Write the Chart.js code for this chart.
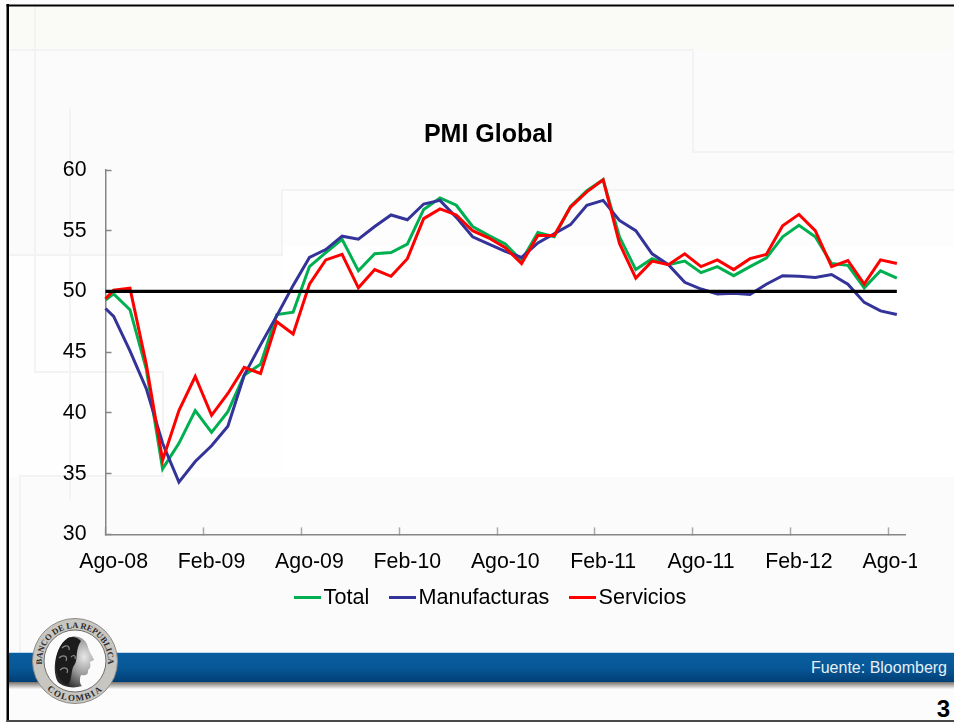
<!DOCTYPE html>
<html lang="es">
<head>
<meta charset="utf-8">
<title>PMI Global</title>
<script src="https://cdn.jsdelivr.net/npm/chart.js@4/dist/chart.umd.min.js"></script>
<style>
    html, body { margin: 0; padding: 0; background: #fcfcfc; overflow: hidden; }
    #slide { position: relative; width: 954px; height: 722px; font-family: "Liberation Sans", Arial, sans-serif; }
    #slide svg, #slide canvas { position: absolute; left: 0; top: 0; }
</style>
</head>
<body>
<div id="slide">
    <!-- Slide template: faint steps, blue band, seal and page number -->
    <svg width="954" height="722" viewBox="0 0 954 722">
        <defs>
            <linearGradient id="band" x1="0" y1="0" x2="0" y2="1">
                <stop offset="0" stop-color="#0a5f9f"/>
                <stop offset="0.55" stop-color="#075796"/>
                <stop offset="1" stop-color="#013f76"/>
            </linearGradient>
            <linearGradient id="bandShadow" x1="0" y1="0" x2="0" y2="1">
                <stop offset="0" stop-color="#77726c"/>
                <stop offset="1" stop-color="#f8f8f8"/>
            </linearGradient>
            <radialGradient id="face" cx="0.75" cy="0.4" r="0.7">
                <stop offset="0" stop-color="#e8e8e8"/>
                <stop offset="0.5" stop-color="#9a9a9a"/>
                <stop offset="1" stop-color="#2b2b2b"/>
            </radialGradient>
            <path id="sealTop" d="M 42.5 666.7 A 33 33 0 1 1 107.5 666.7"/>
            <path id="sealBottom" d="M 37.4 674.7 A 40 40 0 0 0 112.6 674.7"/>
        </defs>

        <rect x="0" y="0" width="954" height="722" fill="#fcfcfc"/>
        <rect x="9" y="6" width="945" height="44" fill="#fafaf7"/>
        <rect x="9" y="50" width="945" height="140" fill="#fbfbfb"/>
        <rect x="9" y="190" width="273" height="65" fill="#fbfbfb"/>
        <rect x="282" y="190" width="672" height="56" fill="#fdfdfd"/>
        <rect x="282" y="246" width="672" height="231" fill="#ffffff"/>
        <rect x="9" y="255" width="273" height="222" fill="#fefefe"/>
        <rect x="9" y="477" width="945" height="176" fill="#fbfbfb"/>

        <g fill="none" stroke="#f3f3f3" stroke-width="2">
            <path d="M35 6 V372 H163 V476 H20 V652"/>
            <path d="M9 50 H693 V152 H954"/>
            <path d="M70 108 V500"/>
            <path d="M9 255 H282 V190 H954"/>
        </g>

        <rect x="9" y="682" width="945" height="7" fill="url(#bandShadow)"/>
        <rect x="9" y="652" width="945" height="30" fill="url(#band)"/>
        <rect x="9" y="652" width="945" height="1" fill="#bcd8ea"/>

        <rect x="6.5" y="4" width="2.5" height="718" fill="#000"/>
        <rect x="6.5" y="4.5" width="947.5" height="2" fill="#000"/>
        <rect x="6.5" y="720" width="947.5" height="2" fill="#4a4a4a"/>

        <circle cx="75" cy="661" r="42.5" fill="#c8c6c1" stroke="#8d8a85" stroke-width="1"/>
        <circle cx="75" cy="661" r="31" fill="#fbfbfb" stroke="#6f6d69" stroke-width="1"/>
        <path d="M68 638 C76 634 86 638 88 647 C89 652 92 655 94 660 L90 662 C91 666 90 669 88 670 C89 675 84 676 81 675 C79 680 80 684 82 686 C73 689 63 687 58 682 C52 672 54 648 68 638 Z" fill="url(#face)"/>
        <path d="M68 638 C60 643 55 654 56 668 C57 676 61 683 68 685 C73 678 70 670 75 664 C78 658 75 650 81 641 C77 637 72 636 68 638 Z" fill="#1c1c1c"/>
        <g fill="none" stroke="#8b8b8b" stroke-width="1.2">
            <path d="M62 648 C66 644 70 646 69 650"/>
            <path d="M59 658 C63 654 68 656 66 661"/>
            <path d="M60 670 C64 666 69 668 67 673"/>
            <path d="M71 657 C74 654 76 656 75 659"/>
        </g>
        <g font-family="Liberation Serif, serif" font-weight="bold" fill="#2a2a2a">
            <text font-size="8.5"><textPath href="#sealTop" startOffset="50%" text-anchor="middle">BANCO DE LA REPUBLICA</textPath></text>
            <text font-size="9" letter-spacing="1.4"><textPath href="#sealBottom" startOffset="50%" text-anchor="middle">COLOMBIA</textPath></text>
        </g>

        <text x="947" y="672.5" text-anchor="end" font-size="16" fill="#e6eff6">Fuente: Bloomberg</text>
        <text x="950" y="717" text-anchor="end" font-size="24" font-weight="bold" fill="#000">3</text>
    </svg>
    <canvas id="pmiChart" width="917" height="722"></canvas>
</div>

<script>
// Months on the x axis, one label shown every six
const categories = [
    "Ago-08", "Sep-08", "Oct-08", "Nov-08", "Dic-08", "Ene-09", "Feb-09", "Mar-09", "Abr-09", "May-09",
    "Jun-09", "Jul-09", "Ago-09", "Sep-09", "Oct-09", "Nov-09", "Dic-09", "Ene-10", "Feb-10", "Mar-10",
    "Abr-10", "May-10", "Jun-10", "Jul-10", "Ago-10", "Sep-10", "Oct-10", "Nov-10", "Dic-10", "Ene-11",
    "Feb-11", "Mar-11", "Abr-11", "May-11", "Jun-11", "Jul-11", "Ago-11", "Sep-11", "Oct-11", "Nov-11",
    "Dic-11", "Ene-12", "Feb-12", "Mar-12", "Abr-12", "May-12", "Jun-12", "Jul-12", "Ago-12"
];

// Reading carried in from the month before, sits on the axis line
const openingTotal = 49.3;
const openingManufacturas = 48.6;
const openingServicios = 49.4;

const total = [
    49.8, 48.5, 43.6, 35.4, 37.5, 40.2, 38.4, 40.1, 43.1, 44.0,
    48.1, 48.3, 52.05, 53.2, 54.3, 51.7, 53.1, 53.2, 53.9, 56.75,
    57.7, 57.1, 55.35, 54.6, 53.9, 52.55, 54.85, 54.5, 57.0, 58.3,
    59.2, 54.5, 51.8, 52.7, 52.2, 52.5, 51.55, 52.05, 51.3, 52.05,
    52.75, 54.5, 55.45, 54.5, 52.3, 52.15, 50.3, 51.7, 51.1
];
const manufacturas = [
    47.95, 45.1, 42.0, 37.5, 34.3, 36.0, 37.3, 38.9, 43.1, 45.6,
    48.0, 50.5, 52.8, 53.45, 54.55, 54.3, 55.35, 56.3, 55.9, 57.2,
    57.5, 56.1, 54.5, 53.9, 53.3, 52.8, 54.0, 54.75, 55.5, 57.1,
    57.5, 55.85, 55.0, 53.1, 52.2, 50.75, 50.2, 49.8, 49.85, 49.75,
    50.6, 51.3, 51.25, 51.15, 51.4, 50.6, 49.1, 48.4, 48.1
];
const servicios = [
    50.1, 50.27, 44.0, 36.1, 40.2, 43.0, 39.8, 41.6, 43.75, 43.25,
    47.5, 46.5, 50.6, 52.6, 53.05, 50.3, 51.8, 51.25, 52.7, 56.0,
    56.8, 56.3, 55.0, 54.4, 53.6, 52.3, 54.6, 54.6, 56.95, 58.2,
    59.2, 53.95, 51.1, 52.5, 52.2, 53.1, 52.05, 52.6, 51.8, 52.7,
    53.05, 55.4, 56.35, 55.0, 52.05, 52.55, 50.6, 52.6, 52.3
];
const threshold = 50;

const yTicks = [30, 35, 40, 45, 50, 55, 60];
const labelEvery = 6;

const axisGrey = "#868686";
const tickFont = { family: "'Liberation Sans', Arial, sans-serif", size: 21.3 };

// Points for a series, with its opening reading half a category to the left
function toPoints(opening, values) {
    const points = [{ x: -0.5, y: opening }];
    values.forEach((value, i) => points.push({ x: i, y: value }));
    return points;
}

// Small line sample for the legend, wider than the box Chart.js reserves
function legendLine(color) {
    const sample = document.createElement("canvas");
    sample.width = 27;
    sample.height = 3;
    const ctx = sample.getContext("2d");
    ctx.fillStyle = color;
    ctx.fillRect(0, 0, 27, 3);
    return sample;
}

function seriesDataset(label, opening, values, color, order) {
    return {
        label: label,
        data: toPoints(opening, values),
        borderColor: color,
        backgroundColor: color,
        borderWidth: 3,
        pointRadius: 0,
        pointStyle: legendLine(color),
        tension: 0,
        order: order
    };
}

// Tick labels sit outside the narrow boxes the layout gives the axes, so open
// up the clipping area they are painted in. The legend row also sits a bit right
const layoutTweaks = {
    id: "layoutTweaks",
    afterLayout(chart) {
        chart.scales.y.left = 0;
        chart.scales.x.bottom = chart.height;
        chart.legend.left += 11;
    }
};

new Chart(document.getElementById("pmiChart"), {
    type: "line",
    data: {
        labels: categories,
        datasets: [
            seriesDataset("Total", openingTotal, total, "#00B050", 3),
            seriesDataset("Manufacturas", openingManufacturas, manufacturas, "#333399", 2),
            seriesDataset("Servicios", openingServicios, servicios, "#FF0000", 1),
            {
                label: "50",
                data: [{ x: -0.5, y: threshold }, { x: categories.length - 1, y: threshold }],
                borderColor: "#000000",
                borderWidth: 3.2,
                pointRadius: 0,
                order: 0
            }
        ]
    },
    plugins: [layoutTweaks],
    options: {
        responsive: false,
        animation: false,
        parsing: false,
        normalized: true,
        layout: { padding: { left: 72, right: 12, top: 120, bottom: 103.5 } },
        scales: {
            x: {
                type: "category",
                offset: true,
                border: { color: axisGrey, width: 1.5 },
                grid: {
                    offset: true,
                    drawOnChartArea: false,
                    tickLength: -7,
                    tickWidth: 1.5,
                    // one mark per labelled month, an empty label keeps the tick in place
                    tickColor: ctx => (ctx.index % labelEvery === 0 ? "#a9a9a9" : "transparent")
                },
                ticks: {
                    autoSkip: false,
                    maxRotation: 0,
                    minRotation: 0,
                    padding: 22,
                    color: "#000",
                    font: tickFont,
                    callback: function(value, i) {
                        return i % labelEvery === 0 ? categories[i] : "";
                    }
                },
                afterFit: scale => {
                    scale.height = 25;
                    scale.paddingLeft = 0;
                    scale.paddingRight = 0;
                }
            },
            y: {
                min: yTicks[0],
                max: yTicks[yTicks.length - 1],
                border: { color: axisGrey, width: 1.5 },
                grid: {
                    drawOnChartArea: false,
                    tickLength: -6,
                    tickWidth: 1.5,
                    tickColor: axisGrey
                },
                ticks: {
                    stepSize: 5,
                    padding: 25,
                    color: "#000",
                    font: tickFont
                },
                afterFit: scale => {
                    scale.width = 33.5;
                }
            }
        },
        plugins: {
            title: {
                display: true,
                text: "PMI Global",
                color: "#000",
                font: { family: "'Liberation Sans', Arial, sans-serif", size: 25, weight: "bold" },
                padding: { top: 0, bottom: 20 }
            },
            legend: {
                position: "bottom",
                labels: {
                    usePointStyle: true,
                    pointStyleWidth: 11,
                    color: "#000",
                    font: { family: "'Liberation Sans', Arial, sans-serif", size: 21.6 },
                    padding: 27.5,
                    filter: item => item.datasetIndex < 3,
                    sort: (a, b) => a.datasetIndex - b.datasetIndex
                }
            },
            tooltip: { enabled: false }
        }
    }
});
</script>
</body>
</html>
